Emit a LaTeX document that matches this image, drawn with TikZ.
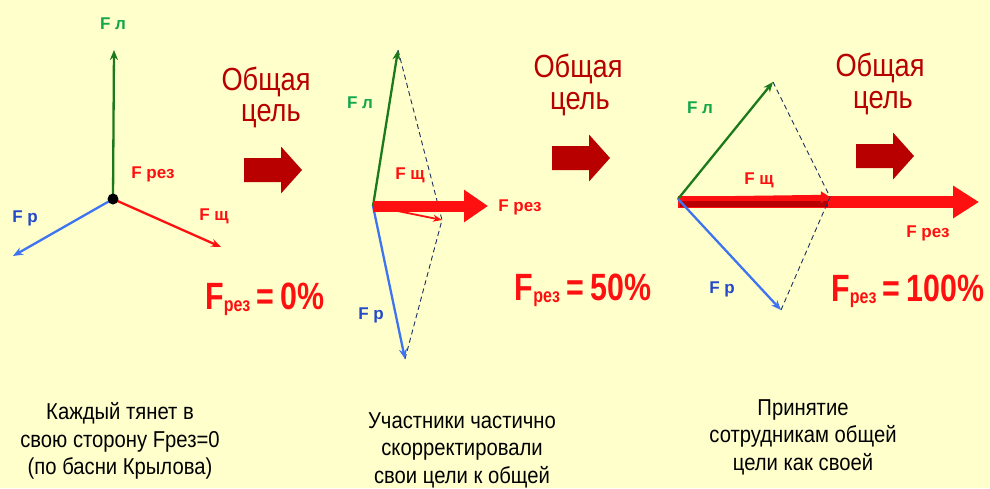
\documentclass[tikz,border=0pt]{standalone}
\usepackage{fontspec}
\setmainfont{Liberation Sans}
\newfontfamily\narrowf[FakeStretch=0.88]{Liberation Sans}
\newfontfamily\goalf[FakeStretch=0.85]{Liberation Sans}
\newfontfamily\resf[FakeStretch=0.8]{Liberation Sans}
\usetikzlibrary{arrows.meta}
\definecolor{bg}{HTML}{FFFFCC}
\definecolor{vgreen}{HTML}{1B7A1B}
\definecolor{lgreen}{HTML}{12A84A}
\definecolor{vblue}{HTML}{3F74F0}
\definecolor{lblue}{HTML}{2448C8}
\definecolor{vred}{HTML}{FF1010}
\definecolor{dred}{HTML}{B80000}
\definecolor{dashc}{HTML}{1F2F5F}
\tikzset{
  vec/.style={line width=2.3pt,-{Stealth[length=10pt,width=8pt]}},
  gvec/.style={vec,draw=vgreen,color=vgreen},
  bvec/.style={vec,draw=vblue,color=vblue},
  rvec/.style={vec,draw=vred,color=vred},
  dashline/.style={draw=dashc,line width=0.9pt,dash pattern=on 5pt off 3.5pt},
  flab/.style={font=\bfseries\fontsize{17}{19}\selectfont,inner sep=0pt},
  glab/.style={flab,text=lgreen},
  blab/.style={flab,text=lblue},
  rlab/.style={flab,text=vred},
  goal/.style={font=\goalf\fontsize{32}{34}\selectfont,text=dred,inner sep=0pt,anchor=base},
  result/.style={font=\resf\bfseries,text=vred,inner sep=0pt},
  capt/.style={font=\narrowf\fontsize{23}{27.5}\selectfont,align=center,inner sep=0pt},
  blk/.pic={\fill[dred] (0,-12) -- (37,-12) -- (37,-23.5) -- (58,0) -- (37,23.5) -- (37,12) -- (0,12) -- cycle;}
}
\newcommand{\resval}[1]{{\fontsize{38}{42}\selectfont F}{\fontsize{20}{24}\selectfont\raisebox{-2pt}{рез}}{\fontsize{38}{42}\selectfont\,=\,#1}}
\begin{document}
\begin{tikzpicture}[x=1pt,y=-1pt]
\fill[bg] (0,0) rectangle (990,488);
\useasboundingbox (0,0) rectangle (990,488);

% ---------- Panel 1 ----------
\coordinate (o1) at (113,199);
\coordinate (l1) at (114,50);
\coordinate (p1) at (13,256);
\coordinate (s1) at (221,247);
\draw[gvec] (o1) -- (l1);
\draw[bvec] (o1) -- (p1);
\draw[rvec] (o1) -- (s1);
\fill[black] (o1) circle (5.5);
\node[glab] (tl1) at (113,24) {F л};
\node[blab] (tp1) at (25,218) {F р};
\node[rlab] (tr1) at (153,174) {F рез};
\node[rlab] (ts1) at (214,216) {F щ};
\node[goal] (g1a) at (266,90) {Общая};
\node[goal] (g1b) at (271,121) {цель};
\pic at (244,170) {blk};
\node[result] (r1) at (265,299) {\resval{0\%}};

% ---------- Panel 2 ----------
\coordinate (o2) at (373,206);
\coordinate (l2) at (398,50);
\coordinate (p2) at (405,359);
\coordinate (s2) at (442,220);
\coordinate (e2) at (488,206);
\draw[dashline] (l2) -- (s2) -- (p2);
\draw[gvec] (o2) -- (l2);
\draw[bvec] (o2) -- (p2);
\draw[draw=vred,line width=11pt,-{Triangle[length=24pt,width=31pt]}] (o2) -- (e2);
\draw[rvec,line width=1.8pt,-{Stealth[length=9pt,width=7pt]}] (o2) -- (s2);
\node[glab] (tl2) at (360,103) {F л};
\node[blab] (tp2) at (371,315) {F р};
\node[rlab] (ts2) at (410,175) {F щ};
\node[rlab] (tr2) at (520,207) {F рез};
\node[goal] (g2a) at (578,77) {Общая};
\node[goal] (g2b) at (580,109) {цель};
\pic at (552,158) {blk};
\node[result] (r2) at (583,290) {\resval{50\%}};

% ---------- Panel 3 ----------
\coordinate (o3) at (678,199);
\coordinate (l3) at (773,82);
\coordinate (p3) at (781,310);
\coordinate (s3) at (830,197);
\coordinate (e3) at (979,202);
\coordinate (o3r) at (678,202);
\draw[draw=vred,line width=12pt,-{Triangle[length=26pt,width=31pt]}] (o3r) -- (e3);
\draw[draw=dred,line width=6pt] (680,204) -- (828,204);
\draw[dashline] (l3) -- (s3) -- (p3);
\draw[draw=vred,color=vred,line width=4.5pt,-{Triangle[length=9pt,width=11pt]}] (o3) -- (s3);
\draw[gvec] (o3) -- (l3);
\draw[bvec] (o3) -- (p3);
\node[glab] (tl3) at (700,108) {F л};
\node[blab] (tp3) at (722,289) {F р};
\node[rlab] (ts3) at (759,180) {F щ};
\node[rlab] (tr3) at (928,233) {F рез};
\node[goal] (g3a) at (880,76) {Общая};
\node[goal] (g3b) at (883,108) {цель};
\pic at (856,156) {blk};
\node[result] (r3) at (908,291) {\resval{100\%}};

% ---------- Captions ----------
\node[capt] (c1) at (120,441) {Каждый тянет в\\свою сторону Fрез=0\\(по басни Крылова)};
\node[capt] (c2) at (462,450) {Участники частично\\скорректировали\\свои цели к общей};
\node[capt] (c3) at (803,437) {Принятие\\сотрудникам общей\\цели как своей};
\end{tikzpicture}
\end{document}
